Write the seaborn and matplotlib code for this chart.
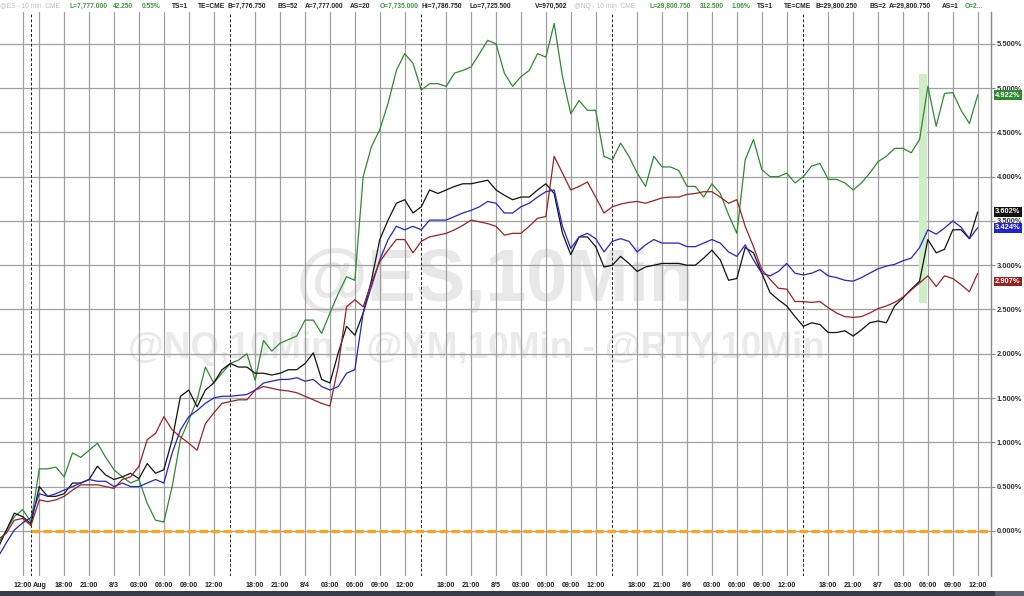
import pandas as pd
import matplotlib.pyplot as plt
import matplotlib.transforms as mtransforms
from matplotlib.patches import Rectangle
import seaborn as sns

# --- data: hourly closes, % change; x = trading hours from Fri 12:00 bar ---
hours = list(range(-3, 116))

nq = [-0.15, 0.0, 0.16, 0.24, 0.1, 0.7, 0.7, 0.72, 0.61, 0.88, 0.83, 0.91, 0.99, 0.83,
      0.69, 0.61, 0.54, 0.58, 0.31, 0.12, 0.1, 0.5, 1.03, 1.25, 1.48, 1.85, 1.67, 1.78,
      1.89, 1.93, 2.0, 1.7, 2.15, 2.03, 2.12, 2.16, 2.2, 2.38, 2.38, 2.23, 2.46, 2.68,
      2.87, 2.83, 4.0, 4.34, 4.53, 4.83, 5.2, 5.39, 5.28, 4.98, 5.05, 5.05, 5.02, 5.17,
      5.2, 5.24, 5.39, 5.54, 5.5, 5.17, 5.02, 5.13, 5.2, 5.39, 5.35, 5.73, 5.13, 4.71,
      4.86, 4.75, 4.75, 4.23, 4.19, 4.38, 4.23, 4.04, 3.89, 4.23, 4.11, 4.11, 4.07, 3.89,
      3.89, 3.77, 3.92, 3.81, 3.57, 3.36, 4.19, 4.42, 4.08, 4.0, 4.0, 4.04, 3.93, 4.0,
      4.12, 4.15, 3.97, 3.97, 3.93, 3.85, 3.93, 4.04, 4.17, 4.23, 4.32, 4.32, 4.27, 4.42,
      5.02, 4.57, 4.94, 4.95, 4.75, 4.6, 4.922]

es = [-0.2, 0.0, 0.2, 0.16, 0.08, 0.5, 0.39, 0.39, 0.42, 0.54, 0.54, 0.58, 0.73, 0.63,
      0.58, 0.61, 0.65, 0.59, 0.76, 0.65, 0.69, 1.03, 1.52, 1.59, 1.4, 1.59, 1.67, 1.82,
      1.89, 1.85, 1.85, 1.78, 1.78, 1.76, 1.78, 1.82, 1.82, 1.89, 2.01, 1.71, 1.67, 2.01,
      2.31, 2.21, 2.46, 2.83, 3.29, 3.51, 3.7, 3.74, 3.59, 3.66, 3.85, 3.81, 3.85, 3.89,
      3.92, 3.92, 3.94, 3.96, 3.85, 3.79, 3.74, 3.77, 3.77, 3.85, 3.92, 3.81, 3.36, 3.12,
      3.32, 3.32, 3.21, 2.98, 3.0, 3.1, 3.02, 2.93, 2.98, 3.0, 3.02, 3.02, 3.02, 3.0,
      3.0, 3.08, 3.17, 3.06, 2.83, 2.85, 3.2, 3.14, 2.91, 2.69, 2.61, 2.54, 2.42, 2.31,
      2.35, 2.33, 2.24, 2.24, 2.26, 2.2, 2.27, 2.35, 2.37, 2.35, 2.54, 2.63, 2.73, 2.82,
      3.29, 3.14, 3.18, 3.4, 3.4, 3.3, 3.602]

ym = [-0.3, -0.14, 0.01, 0.09, 0.15, 0.42, 0.39, 0.42, 0.46, 0.5, 0.54, 0.58, 0.56, 0.56,
      0.5, 0.54, 0.5, 0.5, 0.54, 0.58, 0.54, 0.88, 1.14, 1.29, 1.36, 1.44, 1.5, 1.52,
      1.52, 1.53, 1.54, 1.59, 1.67, 1.69, 1.71, 1.71, 1.73, 1.69, 1.71, 1.63, 1.59, 1.63,
      1.78, 1.82, 2.46, 2.76, 3.06, 3.29, 3.44, 3.4, 3.44, 3.4, 3.51, 3.51, 3.51, 3.55,
      3.59, 3.62, 3.66, 3.72, 3.7, 3.59, 3.59, 3.66, 3.7, 3.77, 3.83, 3.85, 3.44, 3.19,
      3.32, 3.36, 3.3, 3.15, 3.27, 3.3, 3.27, 3.15, 3.23, 3.29, 3.25, 3.25, 3.25, 3.21,
      3.21, 3.25, 3.29, 3.25, 3.15, 3.1, 3.23, 3.06, 2.91, 2.88, 2.93, 3.02, 2.91, 2.89,
      2.91, 2.95, 2.88, 2.86, 2.83, 2.82, 2.86, 2.91, 2.96, 2.99, 3.01, 3.05, 3.08, 3.2,
      3.4, 3.35, 3.42, 3.5, 3.43, 3.3, 3.424]

rty = [-0.1, -0.03, 0.12, 0.14, 0.06, 0.35, 0.33, 0.35, 0.39, 0.46, 0.52, 0.52, 0.52, 0.5,
       0.48, 0.58, 0.61, 0.73, 1.03, 1.1, 1.29, 1.14, 1.06, 0.99, 0.91, 1.21, 1.33, 1.44,
       1.46, 1.48, 1.48, 1.59, 1.63, 1.61, 1.59, 1.58, 1.56, 1.52, 1.48, 1.44, 1.41, 1.86,
       2.53, 2.61, 2.53, 2.8, 3.04, 3.17, 3.29, 3.29, 3.14, 3.27, 3.32, 3.34, 3.36, 3.4,
       3.45, 3.51, 3.49, 3.47, 3.44, 3.34, 3.36, 3.36, 3.44, 3.53, 3.55, 4.23, 4.04, 3.85,
       3.89, 3.94, 3.77, 3.59, 3.66, 3.69, 3.71, 3.72, 3.7, 3.73, 3.76, 3.77, 3.77, 3.8,
       3.81, 3.83, 3.83, 3.77, 3.7, 3.74, 3.44, 3.21, 2.95, 2.84, 2.74, 2.73, 2.59, 2.59,
       2.58, 2.59, 2.52, 2.46, 2.42, 2.41, 2.42, 2.46, 2.51, 2.54, 2.58, 2.64, 2.72, 2.8,
       2.88, 2.76, 2.88, 2.85, 2.78, 2.7, 2.907]

tick_hours = [0, 2, 5, 8, 11, 14, 17, 20, 23,
              28, 31, 34, 37, 40, 43, 46,
              51, 54, 57, 60, 63, 66, 69,
              74, 77, 80, 83, 86, 89, 92,
              97, 100, 103, 106, 109, 112, 115]
tick_labels = ["12:00", "Aug", "18:00", "21:00", "8/3", "03:00", "06:00", "09:00", "12:00",
               "18:00", "21:00", "8/4", "03:00", "06:00", "09:00", "12:00",
               "18:00", "21:00", "8/5", "03:00", "06:00", "09:00", "12:00",
               "18:00", "21:00", "8/6", "03:00", "06:00", "09:00", "12:00",
               "18:00", "21:00", "8/7", "03:00", "06:00", "09:00", "12:00"]
session_breaks = [1, 25, 48, 71, 94]
y_ticks = [0, 0.5, 1, 1.5, 2, 2.5, 3, 3.5, 4, 4.5, 5, 5.5]

colors = {"NQ": "#2f8a2f", "ES": "#111111", "YM": "#2424cc", "RTY": "#9a2222"}

df = pd.concat([
    pd.DataFrame({"hour": hours, "pct": vals, "symbol": sym})
    for sym, vals in [("NQ", nq), ("ES", es), ("YM", ym), ("RTY", rty)]
])

sns.set_style("white")
plt.rcParams['font.family'] = ['Liberation Sans', 'DejaVu Sans']

fig = plt.figure(figsize=(10.24, 5.96), dpi=100)
ax = fig.add_axes([0, 20 / 596, 991 / 1024, 564 / 596])
ax.set_axisbelow(True)

sns.lineplot(data=df, x="hour", y="pct", hue="symbol", palette=colors,
             estimator=None, linewidth=0.9, legend=False, ax=ax, zorder=3)

ax.set_xlim(-2.73, 116.6)
ax.set_ylim(-0.51, 5.86)
ax.set_xlabel("")
ax.set_ylabel("")

# grid + session breaks
ax.set_xticks(tick_hours)
ax.set_xticklabels(tick_labels, fontsize=5.1, fontweight="bold", color="#222222")
ax.set_yticks(y_ticks)
ax.set_yticklabels([f"{v:.3f}%" for v in y_ticks], fontsize=5.4, fontweight="bold",
                   color="#333333")
ax.yaxis.tick_right()
ax.tick_params(axis="x", length=0, pad=4)
ax.tick_params(axis="y", length=3, width=0.8, color="#888888", pad=1)
ax.grid(True, color="#a0a0a0", linewidth=0.9)
for b in session_breaks:
    ax.axvline(b, color="#222222", linewidth=0.7, linestyle=(0, (3, 2)), zorder=1)
for side in ["left", "top", "bottom"]:
    ax.spines[side].set_visible(False)
ax.spines["right"].set_color("#888888")
ax.spines["right"].set_linewidth(1.0)

# zero reference line
ax.hlines(0, session_breaks[0], ax.get_xlim()[1], color="#f5a623", linewidth=2.4,
          linestyles=(0, (2.6, 1.0)), zorder=2)

# highlight band
ax.add_patch(Rectangle((107.9, 2.57), 1.0, 2.59, facecolor="#cfeec8", edgecolor="none",
                       zorder=0.8))

# watermark
ax.text(0.5, 0.487, "@ES,10Min", transform=ax.transAxes, ha="center", va="baseline",
        fontsize=53, fontweight="bold", color="#e8e8e8", zorder=0.2)
ax.text(0.481, 0.386, "@NQ,10Min - @YM,10Min - @RTY,10Min", transform=ax.transAxes,
        ha="center", va="baseline", fontsize=26.5, fontweight="bold", color="#eaeaea",
        zorder=0.2)

# last-value tags
trans = mtransforms.blended_transform_factory(ax.transAxes, ax.transData)
tag_nudge = {"NQ": 0, "ES": 0, "YM": 0, "RTY": -0.09}
for sym, vals in [("NQ", nq), ("ES", es), ("YM", ym), ("RTY", rty)]:
    ax.text(1.004, vals[-1] + tag_nudge[sym], f"{vals[-1]:.3f}%", transform=trans,
            ha="left", va="center", fontsize=5.4, fontweight="bold", color="white",
            bbox=dict(boxstyle="square,pad=0.18", facecolor=colors[sym], edgecolor="none"),
            zorder=10, clip_on=False)

# header strip (quote fields, one per word)
grey, green, dark = "#bdbdbd", "#3a9a3a", "#222222"
header = [
    (0, "@ES - 10 min  CME", grey), (70, "L=7,777.000", green), (113, "42.250", green),
    (142, "0.55%", green), (172, "TS=1", dark), (198, "TE=CME", dark),
    (227, "B=7,776.750", dark), (278, "BS=52", dark), (305, "A=7,777.000", dark),
    (350, "AS=20", dark), (380, "O=7,735.000", green), (422, "Hi=7,786.750", dark),
    (470, "Lo=7,725.500", dark), (535, "V=970,502", dark),
    (574, "@NQ - 10 min  CME", grey), (649, "L=29,800.750", green), (700, "312.500", green),
    (732, "1.06%", green), (757, "TS=1", dark), (784, "TE=CME", dark),
    (815, "B=29,800.250", dark), (869, "BS=2", dark), (889, "A=29,800.750", dark),
    (942, "AS=1", dark), (965, "O=2...", green),
]
for px, txt, col in header:
    fig.text(px / 1024, 1 - 6 / 596, txt, ha="left", va="center", fontsize=4.8,
             fontweight="normal" if col == grey else "bold", color=col)

# dark strip at the bottom
fig.patches.append(Rectangle((0, 0), 1, 5 / 596, transform=fig.transFigure,
                             facecolor="#363d49", edgecolor="none"))
fig.patches.append(Rectangle((995 / 1024, 0), 29 / 1024, 5 / 596,
                             transform=fig.transFigure, facecolor="#5c6470",
                             edgecolor="none"))

fig.savefig("out.png", dpi=100)
